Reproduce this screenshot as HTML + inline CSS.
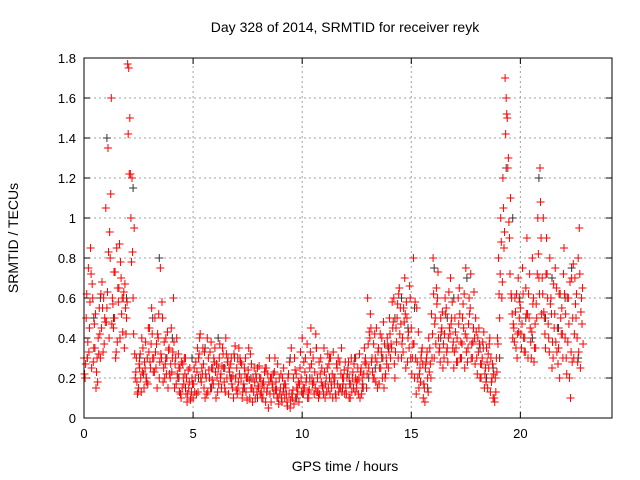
<!DOCTYPE html>
<html><head><meta charset="utf-8"><style>
body{margin:0;background:#fff;}
svg{display:block;font-family:"Liberation Sans",sans-serif;}
</style></head><body>
<svg id="chart" width="640" height="480">
<text x="345" y="32" text-anchor="middle" font-size="14">Day 328 of 2014, SRMTID for receiver reyk</text>
<text x="345" y="471" text-anchor="middle" font-size="14">GPS time / hours</text>
<text transform="translate(18,238) rotate(-90)" text-anchor="middle" font-size="14">SRMTID / TECUs</text>
<g id="grid"></g><g id="axes"></g><g id="marks"></g>
<rect x="84" y="58" width="528" height="360" fill="none" stroke="#000"/>
</svg>
<script>
const xTicks=[0,5,10,15,20];
const yTicks=[0,0.2,0.4,0.6,0.8,1,1.2,1.4,1.6,1.8];
const yTickLabels=["0","0.2","0.4","0.6","0.8","1","1.2","1.4","1.6","1.8"];
const redA=[0.3,0.5,0.75,0.85,0.6,0.35,0.3,0.55,0.45,0.6,1.05,1.35,0.8,0.6,0.5,0.85,0.65,0.7,0.6,0.55,1.77,1.5,1.2,0.95,0.3,0.15,0.2,0.35,0.25,0.3,0.45,0.55,0.3,0.25,0.4,0.75,0.5,0.2,0.3,0.35,0.45,0.6,0.3,0.2,0.25,0.15,0.3,0.2,0.15,0.1,0.1,0.2,0.35,0.4,0.25,0.15,0.2,0.3,0.15,0.25,0.35,0.2,0.3,0.15,0.25,0.4,0.3,0.2,0.15,0.3,0.25,0.35,0.2,0.15,0.3,0.2,0.1,0.15,0.25,0.2,0.15,0.2,0.1,0.25,0.15,0.3,0.2,0.12,0.18,0.1,0.15,0.2,0.1,0.08,0.12,0.35,0.2,0.1,0.15,0.25,0.4,0.15,0.2,0.1,0.45,0.3,0.15,0.2,0.12,0.25,0.35,0.2,0.15,0.3,0.1,0.2,0.25,0.15,0.35,0.2,0.15,0.25,0.1,0.2,0.3,0.15,0.2,0.25,0.15,0.3,0.6,0.4,0.3,0.2,0.45,0.35,0.25,0.3,0.2,0.4,0.5,0.35,0.6,0.45,0.3,0.55,0.4,0.7,0.5,0.35,0.45,0.8,0.3,0.2,0.25,0.35,0.15,0.3,0.4,0.2,0.8,0.5,0.6,0.35,0.45,0.3,0.55,0.4,0.7,0.35,0.5,0.4,0.65,0.3,0.45,0.75,0.35,0.55,0.3,0.4,0.3,0.45,0.2,0.35,0.25,0.15,0.4,0.2,0.1,0.3,0.8,1.0,1.2,1.7,1.5,0.9,0.6,0.45,0.35,0.7,0.55,0.75,0.4,0.9,0.5,0.3,0.6,0.35,1.0,1.25,0.7,0.5,0.9,0.4,0.6,0.3,0.75,0.45,0.2,0.55,0.85,0.3,0.6,0.1,0.5,0.7,0.4,0.95,0.6];
const redB=[0.2,0.3,0.45,0.25,0.35,0.15,0.4,0.3,0.55,0.5,0.55,0.4,1.6,0.45,0.3,0.65,0.4,0.6,0.35,0.5,1.75,1.0,0.6,0.2,0.12,0.25,0.4,0.15,0.2,0.45,0.25,0.3,0.5,0.15,0.2,0.3,0.25,0.4,0.15,0.2,0.3,0.15,0.4,0.25,0.1,0.2,0.3,0.12,0.25,0.2,0.25,0.12,0.3,0.2,0.35,0.1,0.4,0.2,0.25,0.3,0.1,0.25,0.2,0.35,0.15,0.2,0.25,0.3,0.1,0.2,0.15,0.3,0.1,0.25,0.2,0.35,0.15,0.2,0.1,0.25,0.2,0.1,0.15,0.25,0.05,0.2,0.15,0.3,0.1,0.2,0.1,0.25,0.15,0.2,0.05,0.1,0.3,0.15,0.08,0.2,0.15,0.3,0.1,0.25,0.2,0.12,0.35,0.1,0.3,0.15,0.1,0.25,0.3,0.15,0.2,0.1,0.3,0.15,0.2,0.12,0.2,0.1,0.3,0.15,0.2,0.25,0.1,0.2,0.35,0.15,0.25,0.45,0.2,0.3,0.15,0.25,0.4,0.15,0.3,0.25,0.3,0.45,0.2,0.5,0.65,0.3,0.55,0.25,0.4,0.6,0.3,0.2,0.55,0.15,0.3,0.1,0.25,0.2,0.35,0.3,0.3,0.65,0.4,0.5,0.25,0.6,0.35,0.45,0.5,0.25,0.35,0.6,0.3,0.5,0.25,0.4,0.6,0.3,0.45,0.5,0.4,0.2,0.3,0.15,0.35,0.25,0.3,0.1,0.2,0.4,0.5,0.6,0.85,1.6,1.3,1.1,0.4,0.6,0.3,0.5,0.35,0.4,0.65,0.3,0.45,0.8,0.35,0.5,0.7,0.9,1.0,0.35,0.6,0.8,0.25,0.45,0.65,0.35,0.5,0.3,0.4,0.6,0.2,0.7,0.3,0.5,0.8,0.25,0.65];
const redC=[0.22,0.62,0.33,0.72,0.28,0.52,0.18,0.42,0.68,0.37,0.48,0.83,1.12,0.57,0.73,0.38,0.87,0.52,0.63,0.42,1.42,1.22,0.83,0.32,0.18,0.27,0.13,0.22,0.38,0.17,0.28,0.42,0.23,0.37,0.52,0.32,0.18,0.27,0.43,0.22,0.23,0.38,0.17,0.32,0.12,0.27,0.22,0.08,0.18,0.13,0.17,0.28,0.13,0.42,0.22,0.33,0.12,0.24,0.38,0.17,0.23,0.13,0.37,0.26,0.18,0.32,0.12,0.27,0.21,0.36,0.12,0.22,0.27,0.17,0.13,0.24,0.32,0.08,0.18,0.13,0.26,0.13,0.18,0.08,0.22,0.12,0.17,0.23,0.14,0.07,0.22,0.13,0.17,0.06,0.28,0.12,0.07,0.22,0.18,0.33,0.12,0.23,0.37,0.14,0.27,0.18,0.42,0.13,0.22,0.16,0.23,0.13,0.27,0.18,0.33,0.12,0.17,0.28,0.13,0.24,0.12,0.28,0.17,0.23,0.13,0.19,0.32,0.12,0.22,0.27,0.37,0.52,0.23,0.42,0.28,0.17,0.33,0.48,0.22,0.36,0.42,0.58,0.27,0.38,0.62,0.47,0.33,0.52,0.28,0.66,0.22,0.37,0.12,0.43,0.18,0.27,0.08,0.33,0.23,0.52,0.62,0.37,0.73,0.28,0.53,0.42,0.33,0.63,0.47,0.38,0.43,0.28,0.52,0.37,0.62,0.33,0.47,0.72,0.38,0.27,0.22,0.37,0.27,0.43,0.18,0.32,0.13,0.27,0.08,0.23,0.62,0.88,1.05,1.42,1.25,0.72,0.52,0.38,0.62,0.43,0.42,0.62,0.33,0.52,0.72,0.43,0.28,0.57,0.82,1.08,0.62,0.42,0.72,0.33,0.52,0.67,0.38,0.27,0.62,0.42,0.62,0.22,0.47,0.33,0.77,0.57,0.28,0.72,0.47];
const redD=[0.27,0.38,0.58,0.67,0.47,0.23,0.32,0.62,0.33,0.48,0.63,0.93,0.47,0.73,0.33,0.58,0.78,0.43,0.67,0.58,1.22,0.78,0.42,0.23,0.13,0.32,0.23,0.28,0.18,0.33,0.37,0.23,0.33,0.42,0.28,0.58,0.38,0.22,0.34,0.27,0.33,0.27,0.22,0.13,0.28,0.17,0.12,0.24,0.09,0.17,0.13,0.23,0.32,0.18,0.27,0.22,0.13,0.33,0.19,0.28,0.27,0.17,0.22,0.32,0.13,0.28,0.23,0.17,0.32,0.14,0.18,0.28,0.13,0.22,0.09,0.19,0.27,0.13,0.22,0.16,0.12,0.17,0.23,0.13,0.18,0.08,0.22,0.14,0.27,0.12,0.08,0.17,0.12,0.22,0.09,0.14,0.24,0.12,0.17,0.13,0.28,0.18,0.13,0.33,0.17,0.23,0.13,0.28,0.18,0.12,0.17,0.32,0.12,0.22,0.17,0.27,0.13,0.22,0.17,0.28,0.22,0.17,0.13,0.27,0.18,0.12,0.23,0.17,0.28,0.22,0.43,0.28,0.37,0.18,0.33,0.42,0.2,0.37,0.27,0.33,0.37,0.48,0.33,0.57,0.42,0.37,0.48,0.58,0.43,0.3,0.37,0.58,0.28,0.22,0.33,0.17,0.28,0.13,0.27,0.42,0.47,0.57,0.33,0.43,0.37,0.52,0.28,0.42,0.58,0.33,0.28,0.47,0.38,0.57,0.42,0.28,0.52,0.37,0.63,0.43,0.33,0.27,0.38,0.22,0.28,0.37,0.18,0.22,0.13,0.37,0.72,0.68,0.93,1.52,0.98,0.62,0.47,0.53,0.42,0.58,0.47,0.33,0.52,0.62,0.38,0.57,0.47,0.72,0.62,0.52,0.53,0.72,0.47,0.57,0.38,0.52,0.33,0.62,0.42,0.72,0.52,0.38,0.68,0.28,0.42,0.62,0.33,0.53,0.37];
const black=[0.3,0.5,0.6,1.4,0.5,0.4,0.6,1.15,0.3,0.2,0.5,0.8,0.3,0.4,0.2,0.15,0.3,0.2,0.35,0.15,0.4,0.25,0.2,0.3,0.15,0.2,0.1,0.15,0.2,0.1,0.15,0.3,0.1,0.12,0.2,0.35,0.15,0.2,0.1,0.15,0.2,0.3,0.15,0.2,0.25,0.3,0.35,0.5,0.6,0.45,0.55,0.3,0.15,0.75,0.4,0.5,0.6,0.3,0.7,0.45,0.35,0.2,0.25,0.3,1.25,1.0,0.6,0.5,0.4,1.2,0.5,0.7,0.45,0.6,0.75,0.3];
const step=0.1, offB=0.05, offC=0.025, offD=0.075, stepK=0.3, offK=0.15;
const NS="http://www.w3.org/2000/svg";
const X0=84,X1=612,Y0=418,Y1=58,XMAX=24.2,YMAX=1.8;
function xs(t){return X0+(X1-X0)*t/XMAX;}
function ys(v){return Y0-(Y0-Y1)*v/YMAX;}
const grid=document.getElementById('grid'),axes=document.getElementById('axes'),marks=document.getElementById('marks');
function mk(tag,attrs,parent){const e=document.createElementNS(NS,tag);for(const k in attrs)e.setAttribute(k,attrs[k]);parent.appendChild(e);return e;}
yTicks.forEach((v,i)=>{
  const y=ys(v);
  if(i>0&&i<yTicks.length-1){const g=mk('line',{x1:X0,x2:X1,y1:y,y2:y,stroke:'#a0a0a0','stroke-dasharray':'2,3'},grid);
  
  }
  mk('line',{x1:X0,x2:X0+6,y1:y,y2:y,stroke:'#000'},axes);
  mk('line',{x1:X1,x2:X1-6,y1:y,y2:y,stroke:'#000'},axes);
  const t=mk('text',{x:X0-8,y:y+5,'text-anchor':'end','font-size':'13'},axes);
  t.textContent=yTickLabels[i];
  
  
});
xTicks.forEach(v=>{
  const x=xs(v);
  if(v>0){const g=mk('line',{x1:x,x2:x,y1:Y0,y2:Y1,stroke:'#a0a0a0','stroke-dasharray':'2,3'},grid);
  
  }
  mk('line',{x1:x,x2:x,y1:Y0,y2:Y0-6,stroke:'#000'},axes);
  mk('line',{x1:x,x2:x,y1:Y1,y2:Y1+6,stroke:'#000'},axes);
  const t=mk('text',{x:x,y:Y0+20,'text-anchor':'middle','font-size':'13'},axes);
  t.textContent=String(v);
  
  
});
function plus(t,v,color,name){
  const x=xs(t),y=ys(v);
  const p=mk('path',{d:`M${x-4},${y}H${x+4}M${x},${y-4}V${y+4}`,stroke:color,'stroke-width':'1'},marks);
  
  
}
black.forEach((v,i)=>plus(offK+i*stepK,v,'#333','point-black'));
redA.forEach((v,i)=>plus(i*step,v,'#f00','point-red'));
redB.forEach((v,i)=>plus(offB+i*step,v,'#f00','point-red'));
redC.forEach((v,i)=>plus(offC+i*step,v,'#f00','point-red'));
redD.forEach((v,i)=>plus(offD+i*step,v,'#f00','point-red'));
</script>
</body></html>
